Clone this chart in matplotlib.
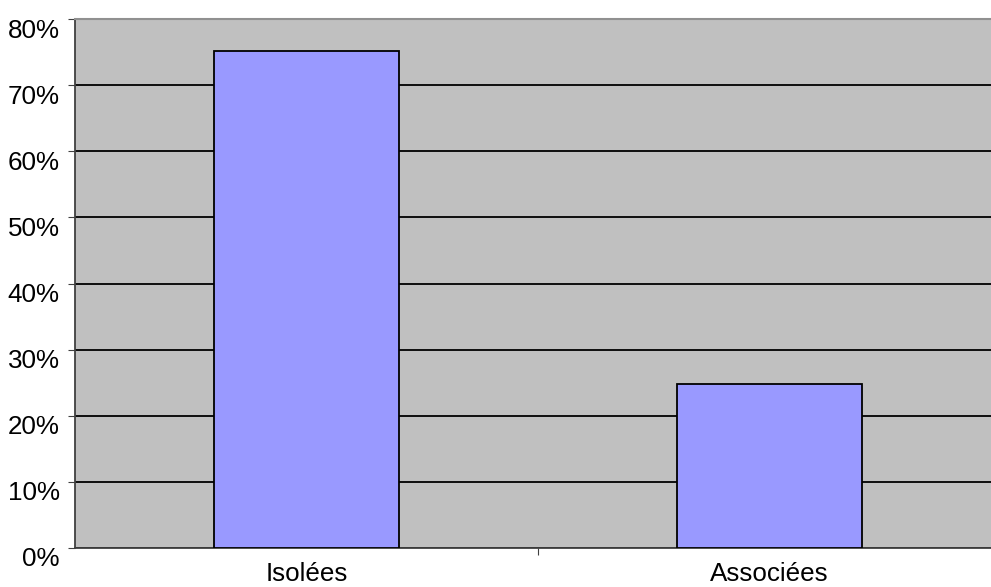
import matplotlib.pyplot as plt
from matplotlib.ticker import MultipleLocator, FuncFormatter
from matplotlib.transforms import ScaledTranslation

# Répartition des formes
categories = ['Isolées', 'Associées']
valeurs = [75.2, 24.8]

plt.rcParams['font.family'] = ['Liberation Sans', 'DejaVu Sans']

fig = plt.figure(figsize=(9.91, 5.87), dpi=100)
# la zone de tracé déborde un peu à droite
ax = fig.add_axes([75 / 991, 39 / 587, 926 / 991, 529 / 587])
ax.set_facecolor('#C0C0C0')

x = range(len(categories))
ax.bar(x, valeurs, width=0.40, color='#9999FF', edgecolor='black', linewidth=1.3, zorder=3)

ax.set_xlim(-0.5, 1.5)
ax.set_ylim(0, 80)
ax.yaxis.set_major_locator(MultipleLocator(10))
ax.yaxis.set_major_formatter(FuncFormatter(lambda v, p: f'{v:.0f}%'))
ax.grid(axis='y', color='black', linewidth=1.3, zorder=1)

# graduation des catégories : petit trait entre les barres
ax.set_xticks([0.5])
ax.set_xticklabels([''])
ax.set_xticks(list(x), minor=True)
ax.set_xticklabels(categories, minor=True)
ax.tick_params(axis='x', which='minor', length=0, pad=10, labelsize=18.7)
ax.tick_params(axis='x', which='major', length=5, direction='out', color='#404040')
ax.tick_params(axis='y', length=5, direction='out', color='#404040', labelsize=18.7, pad=6)

# les pourcentages sont un peu sous leur trait
decalage = ScaledTranslation(0, -9 / 100, fig.dpi_scale_trans)
for lab in ax.get_yticklabels():
    lab.set_transform(lab.get_transform() + decalage)

for s in ['left', 'bottom']:
    ax.spines[s].set_color('#404040')
    ax.spines[s].set_linewidth(1.3)
ax.spines['top'].set_color('#909090')
ax.spines['top'].set_linewidth(1.5)
ax.spines['right'].set_visible(False)

fig.savefig('out.png', dpi=100)
